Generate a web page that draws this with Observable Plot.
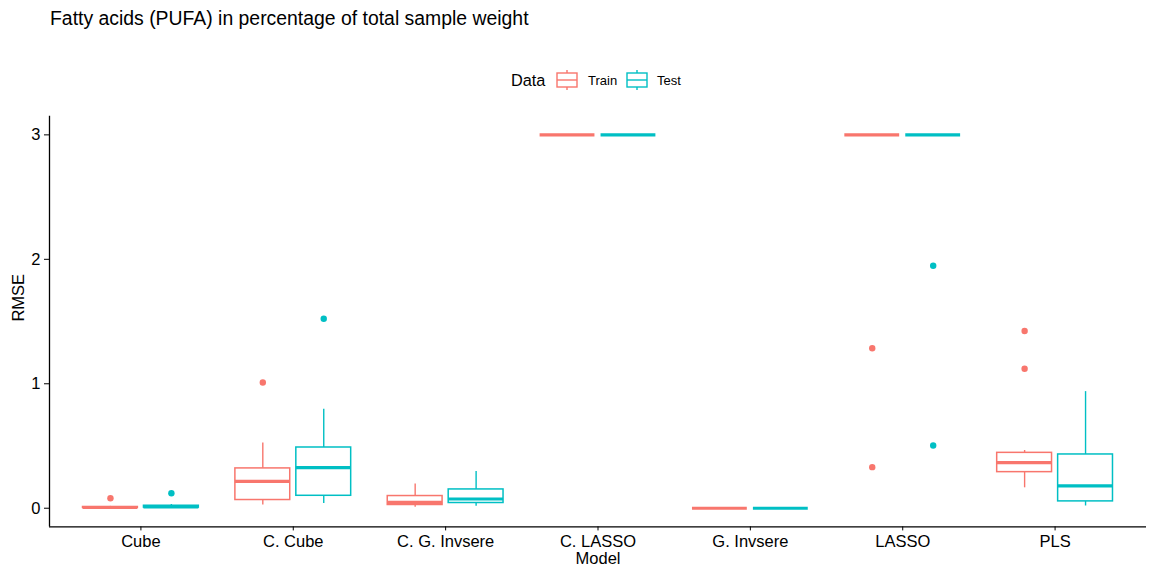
<!DOCTYPE html>
<html>
<head>
<meta charset="utf-8">
<script src="https://cdn.jsdelivr.net/npm/d3@7"></script>
<script src="https://cdn.jsdelivr.net/npm/@observablehq/plot@0.6"></script>
<style>
  html, body { margin: 0; padding: 0; background: #fff; }
  body { width: 1152px; height: 571px; overflow: hidden; font-family: "Liberation Sans", Arial, sans-serif; }
  #title { height: 65px; box-sizing: border-box; padding: 9px 0 0 50px; font-size: 19.4px; line-height: 19px; color: #000; }
  #legend { display: block; }
  #chart svg { display: block; }
</style>
</head>
<body>
<div id="title">Fatty acids (PUFA) in percentage of total sample weight</div>
<svg id="legend" width="1152" height="35"></svg>
<div id="chart"></div>
<script>
const models = ["Cube", "C. Cube", "C. G. Invsere", "C. LASSO", "G. Invsere", "LASSO", "PLS"];
const seriesNames = ["Train", "Test"];
const seriesColors = ["#F8766D", "#00BFC4"];
const yTicks = [0, 1, 2, 3];

const trainLow    = [0.002, 0.026, 0.007, 3.0, 0.0, 3.0, 0.164];
const trainQ1     = [0.003, 0.066, 0.026, 3.0, 0.0, 3.0, 0.290];
const trainMedian = [0.006, 0.215, 0.047, 3.0, 0.0, 3.0, 0.367];
const trainQ3     = [0.010, 0.320, 0.098, 3.0, 0.0, 3.0, 0.445];
const trainHigh   = [0.015, 0.525, 0.194, 3.0, 0.0, 3.0, 0.464];

const testLow    = [0.003, 0.039, 0.015, 3.0, 0.0, 3.0, 0.018];
const testQ1     = [0.005, 0.100, 0.042, 3.0, 0.0, 3.0, 0.055];
const testMedian = [0.011, 0.327, 0.074, 3.0, 0.0, 3.0, 0.180];
const testQ3     = [0.020, 0.488, 0.151, 3.0, 0.0, 3.0, 0.432];
const testHigh   = [0.030, 0.796, 0.295, 3.0, 0.0, 3.0, 0.937];

const trainOutlierModel = ["Cube", "C. Cube", "LASSO", "LASSO", "PLS", "PLS"];
const trainOutlierValue = [0.080, 1.010, 1.285, 0.330, 1.424, 1.121];
const testOutlierModel  = ["Cube", "C. Cube", "LASSO", "LASSO"];
const testOutlierValue  = [0.120, 1.522, 1.948, 0.504];

const dodge = 0.2, half = 0.18;
const offsetOf = s => s === "Train" ? -dodge : dodge;

const stats = {
  Train: [trainLow, trainQ1, trainMedian, trainQ3, trainHigh],
  Test: [testLow, testQ1, testMedian, testQ3, testHigh]
};
const rows = [];
for (const s of seriesNames) {
  const [lo, q1, md, q3, hi] = stats[s];
  models.forEach((m, i) => {
    rows.push({model: m, series: s, pos: i + offsetOf(s), low: lo[i], q1: q1[i], median: md[i], q3: q3[i], high: hi[i]});
  });
}
const outliers = [
  ...trainOutlierModel.map((m, i) => ({series: "Train", pos: models.indexOf(m) + offsetOf("Train"), value: trainOutlierValue[i]})),
  ...testOutlierModel.map((m, i) => ({series: "Test", pos: models.indexOf(m) + offsetOf("Test"), value: testOutlierValue[i]}))
];

const font = "'Liberation Sans', Arial, sans-serif";
const chart = Plot.plot({
  width: 1152,
  height: 471,
  marginTop: 15.7,
  marginBottom: 44.6,
  marginLeft: 49,
  marginRight: 6,
  style: {fontSize: "16px", fontFamily: font, color: "#000", background: "#fff"},
  x: {type: "linear", domain: [-0.6, models.length - 0.4]},
  y: {domain: [-0.15, 3.15]},
  color: {domain: seriesNames, range: seriesColors},
  marks: [
    Plot.ruleX(rows, {x: "pos", y1: "q3", y2: "high", stroke: "series", strokeWidth: 1.4}),
    Plot.ruleX(rows, {x: "pos", y1: "low", y2: "q1", stroke: "series", strokeWidth: 1.4}),
    Plot.rect(rows, {x1: d => d.pos - half, x2: d => d.pos + half, y1: "q1", y2: "q3", fill: "white", stroke: "series", strokeWidth: 1.5}),
    Plot.ruleY(rows, {y: "median", x1: d => d.pos - half, x2: d => d.pos + half, stroke: "series", strokeWidth: 3.2}),
    Plot.dot(outliers, {x: "pos", y: "value", fill: "series", r: 3.2, stroke: null}),
    Plot.ruleX([-0.6], {stroke: "#000", strokeWidth: 1.3}),
    Plot.ruleY([-0.15], {stroke: "#000", strokeWidth: 1.3}),
    Plot.axisX({ticks: d3.range(models.length), tickFormat: i => models[i], tickSize: 4, tickPadding: 4, label: null, fontSize: 16.5, stroke: "#000"}),
    Plot.axisY({ticks: yTicks, tickFormat: d => String(d), tickSize: 5, tickPadding: 4, label: null, fontSize: 16.5, stroke: "#000"}),
    Plot.text(["RMSE"], {frameAnchor: "left", dx: -31, rotate: -90, fontSize: 16.5, fill: "#000"}),
    Plot.text(["Model"], {frameAnchor: "bottom", dy: 37, lineAnchor: "bottom", fontSize: 16.5, fill: "#000"})
  ]
});
document.getElementById("chart").appendChild(chart);

// Legend
const lg = d3.select("#legend").style("font-family", font);
lg.append("text").attr("x", 511).attr("y", 21).attr("font-size", 16.3).attr("fill", "#000").text("Data");
const keyX = [557, 627];
const labX = [588, 657];
seriesNames.forEach((s, i) => {
  const c = seriesColors[i], x0 = keyX[i], w = 20;
  const g = lg.append("g").attr("stroke", c).attr("fill", "none").attr("stroke-width", 1.4);
  g.append("line").attr("x1", x0 + w / 2).attr("x2", x0 + w / 2).attr("y1", 5).attr("y2", 25);
  g.append("rect").attr("x", x0).attr("y", 8).attr("width", w).attr("height", 14).attr("fill", "white");
  g.append("line").attr("x1", x0).attr("x2", x0 + w).attr("y1", 15).attr("y2", 15);
  lg.append("text").attr("x", labX[i]).attr("y", 20).attr("font-size", 13).attr("fill", "#000").text(s);
});
</script>
</body>
</html>
